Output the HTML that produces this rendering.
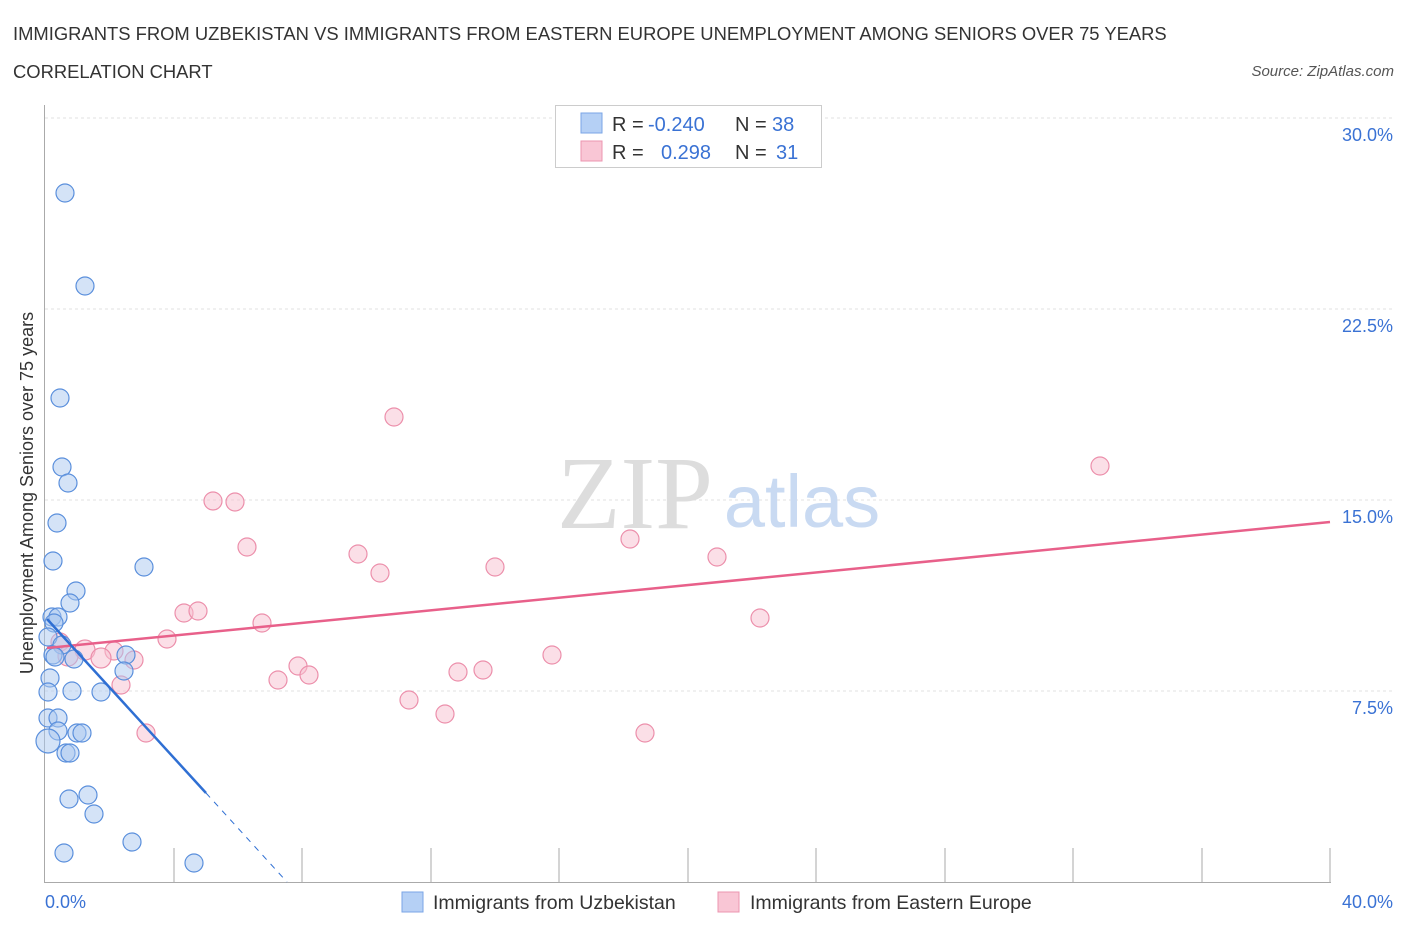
<!DOCTYPE html>
<html><head><meta charset="utf-8"><style>
body{margin:0;background:#fff;font-family:"Liberation Sans",sans-serif;}
</style></head><body>
<svg width="1406" height="930" xmlns="http://www.w3.org/2000/svg" font-family="Liberation Sans, sans-serif">
<text x="13" y="40" font-size="18.4" fill="#333">IMMIGRANTS FROM UZBEKISTAN VS IMMIGRANTS FROM EASTERN EUROPE UNEMPLOYMENT AMONG SENIORS OVER 75 YEARS</text>
<text x="13" y="78" font-size="18.4" fill="#333">CORRELATION CHART</text>
<text x="1394" y="76" font-size="15" fill="#555" font-style="italic" text-anchor="end">Source: ZipAtlas.com</text>
<g stroke="#e2e2e2" stroke-dasharray="3,3" stroke-width="1">
<line x1="45" y1="118" x2="1393" y2="118"/><line x1="45" y1="309" x2="1393" y2="309"/>
<line x1="45" y1="500" x2="1393" y2="500"/><line x1="45" y1="691" x2="1393" y2="691"/>
</g>
<line x1="44.5" y1="105" x2="44.5" y2="883" stroke="#aaa"/>
<line x1="44" y1="882.5" x2="1331" y2="882.5" stroke="#aaa"/>
<g stroke="#aaa"><line x1="174" y1="848" x2="174" y2="882"/><line x1="302" y1="848" x2="302" y2="882"/><line x1="431" y1="848" x2="431" y2="882"/><line x1="559" y1="848" x2="559" y2="882"/><line x1="688" y1="848" x2="688" y2="882"/><line x1="816" y1="848" x2="816" y2="882"/><line x1="945" y1="848" x2="945" y2="882"/><line x1="1073" y1="848" x2="1073" y2="882"/><line x1="1202" y1="848" x2="1202" y2="882"/><line x1="1330" y1="848" x2="1330" y2="882"/></g>
<g fill="#3a72d4" font-size="18" text-anchor="end">
<text x="1393" y="141">30.0%</text><text x="1393" y="332">22.5%</text><text x="1393" y="523">15.0%</text><text x="1393" y="714">7.5%</text>
</g>
<text x="45" y="908" fill="#3a72d4" font-size="18">0.0%</text>
<text x="1393" y="908" fill="#3a72d4" font-size="18" text-anchor="end">40.0%</text>
<text transform="translate(33,493) rotate(-90)" font-size="18" fill="#333" text-anchor="middle">Unemployment Among Seniors over 75 years</text>
<text x="635" y="528" font-size="104" fill="#ddd" font-family="Liberation Serif, serif" text-anchor="middle">ZIP</text>
<text x="802" y="527" font-size="74" fill="#c9daf2" text-anchor="middle">atlas</text>
<g fill="#f7bfd0" fill-opacity="0.5" stroke="#ec8fab" stroke-width="1.2">
<circle cx="394" cy="417" r="9"/><circle cx="1100" cy="466" r="9"/><circle cx="213" cy="501" r="9"/><circle cx="235" cy="502" r="9"/><circle cx="247" cy="547" r="9"/><circle cx="358" cy="554" r="9"/><circle cx="380" cy="573" r="9"/><circle cx="630" cy="539" r="9"/><circle cx="495" cy="567" r="9"/><circle cx="717" cy="557" r="9"/><circle cx="184" cy="613" r="9"/><circle cx="198" cy="611" r="9"/><circle cx="262" cy="623" r="9"/><circle cx="760" cy="618" r="9"/><circle cx="167" cy="639" r="9"/><circle cx="60" cy="642" r="9"/><circle cx="85" cy="650" r="10"/><circle cx="114" cy="651" r="9"/><circle cx="101" cy="658" r="10"/><circle cx="68" cy="656" r="10"/><circle cx="134" cy="660" r="9"/><circle cx="298" cy="666" r="9"/><circle cx="309" cy="675" r="9"/><circle cx="278" cy="680" r="9"/><circle cx="121" cy="685" r="9"/><circle cx="458" cy="672" r="9"/><circle cx="483" cy="670" r="9"/><circle cx="552" cy="655" r="9"/><circle cx="409" cy="700" r="9"/><circle cx="445" cy="714" r="9"/><circle cx="146" cy="733" r="9"/><circle cx="645" cy="733" r="9"/>
</g>
<g fill="#a9c8f0" fill-opacity="0.5" stroke="#5a8fdc" stroke-width="1.2">
<circle cx="65" cy="193" r="9"/><circle cx="85" cy="286" r="9"/><circle cx="60" cy="398" r="9"/><circle cx="62" cy="467" r="9"/><circle cx="68" cy="483" r="9"/><circle cx="57" cy="523" r="9"/><circle cx="53" cy="561" r="9"/><circle cx="144" cy="567" r="9"/><circle cx="76" cy="591" r="9"/><circle cx="70" cy="603" r="9"/><circle cx="52" cy="617" r="9"/><circle cx="58" cy="617" r="9"/><circle cx="54" cy="623" r="9"/><circle cx="48" cy="637" r="9"/><circle cx="62" cy="645" r="9"/><circle cx="53" cy="655" r="9"/><circle cx="55" cy="657" r="9"/><circle cx="74" cy="659" r="9"/><circle cx="126" cy="655" r="9"/><circle cx="124" cy="671" r="9"/><circle cx="50" cy="678" r="9"/><circle cx="48" cy="692" r="9"/><circle cx="72" cy="691" r="9"/><circle cx="101" cy="692" r="9"/><circle cx="48" cy="718" r="9"/><circle cx="58" cy="718" r="9"/><circle cx="58" cy="731" r="9"/><circle cx="77" cy="733" r="9"/><circle cx="82" cy="733" r="9"/><circle cx="66" cy="753" r="9"/><circle cx="70" cy="753" r="9"/><circle cx="48" cy="741" r="12"/><circle cx="69" cy="799" r="9"/><circle cx="88" cy="795" r="9"/><circle cx="94" cy="814" r="9"/><circle cx="132" cy="842" r="9"/><circle cx="64" cy="853" r="9"/><circle cx="194" cy="863" r="9"/>
</g>
<line x1="47" y1="648" x2="1330" y2="522" stroke="#e8608a" stroke-width="2.5"/>
<line x1="47" y1="619" x2="206" y2="793" stroke="#2f6fd3" stroke-width="2.5"/>
<line x1="206" y1="793" x2="287" y2="882" stroke="#2f6fd3" stroke-width="1" stroke-dasharray="6,6"/>
<rect x="555.5" y="105.5" width="266" height="62" fill="#fff" stroke="#ccc"/>
<rect x="581" y="113" width="21" height="20" fill="#b5d0f5" stroke="#7aa5e6"/>
<rect x="581" y="141" width="21" height="20" fill="#f9c6d5" stroke="#ec95b0"/>
<g font-size="20"><text x="612" y="131" fill="#333">R =</text><text x="648" y="131" fill="#3a72d4">-0.240</text><text x="735" y="131" fill="#333">N =</text><text x="772" y="131" fill="#3a72d4">38</text>
<text x="612" y="159" fill="#333">R =</text><text x="661" y="159" fill="#3a72d4">0.298</text><text x="735" y="159" fill="#333">N =</text><text x="776" y="159" fill="#3a72d4">31</text></g>
<rect x="402" y="892" width="21" height="20" fill="#b5d0f5" stroke="#7aa5e6"/>
<text x="433" y="909" font-size="19.5" fill="#333">Immigrants from Uzbekistan</text>
<rect x="718" y="892" width="21" height="20" fill="#f9c6d5" stroke="#ec95b0"/>
<text x="750" y="909" font-size="19.5" fill="#333">Immigrants from Eastern Europe</text>
</svg>
</body></html>
